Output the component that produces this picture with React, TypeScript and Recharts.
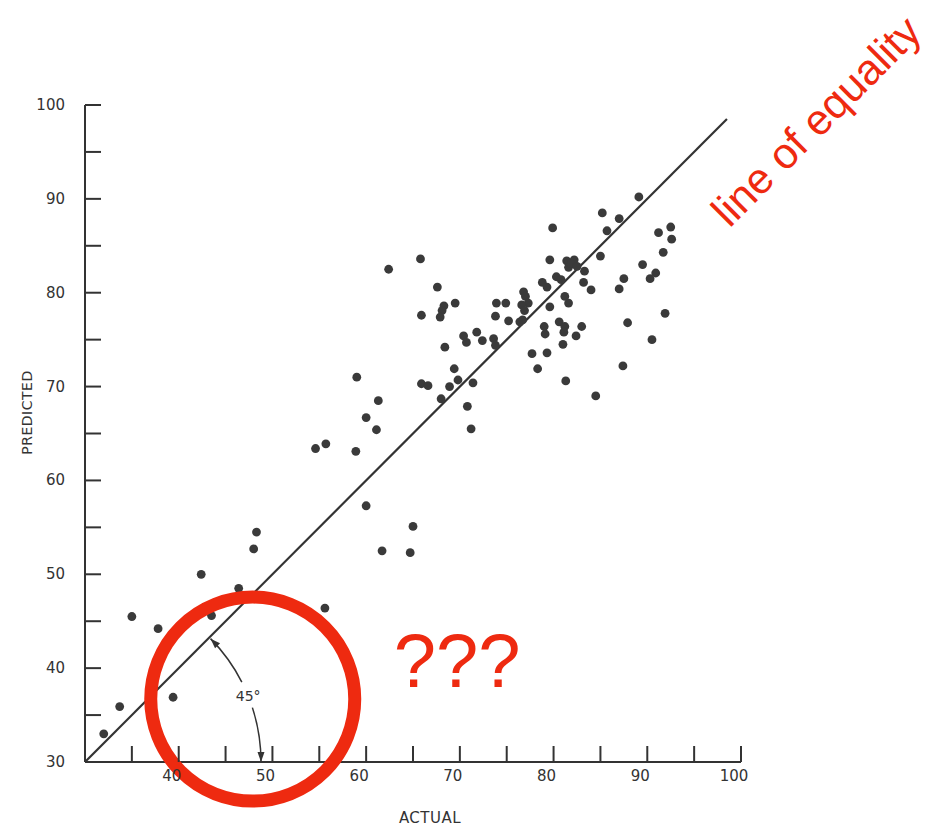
import { ScatterChart, Scatter, XAxis, YAxis, ReferenceLine, ReferenceDot, Label } from 'recharts'

// values
const actual = [
  32.0, 33.7, 35.0, 37.8, 39.4, 42.4, 43.5, 46.4, 48.0, 48.3, 55.6,
  54.6, 55.7, 58.9, 60.0, 61.7, 64.7, 65.0, 59.0, 61.3, 60.0, 61.1,
  62.4, 65.8, 67.6, 68.3, 68.1, 67.9, 65.9, 69.5, 68.4, 69.4, 69.8, 65.9, 66.6, 68.9, 71.4, 68.0, 70.8, 71.2,
  70.4, 70.7, 71.8, 72.4, 73.6, 73.8, 73.9, 74.9, 73.8, 75.2, 76.8, 77.0, 77.3, 76.6, 76.9, 76.4, 76.7,
  78.8, 79.3, 80.3, 80.8, 79.6, 81.2, 81.6, 80.6, 81.2, 81.1, 79.0, 79.1, 83.0, 82.4, 81.0, 79.3, 77.7, 78.3, 81.3, 84.5,
  79.9, 79.6, 81.4, 82.2, 81.6, 81.9, 82.5, 83.3, 85.0, 83.2, 84.0,
  85.2, 87.0, 85.7, 89.1, 91.2, 92.5, 92.6, 91.7, 89.5, 90.9, 90.3, 87.5, 87.0, 87.9, 87.4, 90.5, 91.9,
]
const predicted = [
  33.0, 35.9, 45.5, 44.2, 36.9, 50.0, 45.6, 48.5, 52.7, 54.5, 46.4,
  63.4, 63.9, 63.1, 57.3, 52.5, 52.3, 55.1, 71.0, 68.5, 66.7, 65.4,
  82.5, 83.6, 80.6, 78.6, 78.1, 77.4, 77.6, 78.9, 74.2, 71.9, 70.7, 70.3, 70.1, 70.0, 70.4, 68.7, 67.9, 65.5,
  75.4, 74.7, 75.8, 74.9, 75.1, 74.4, 78.9, 78.9, 77.5, 77.0, 80.1, 79.6, 78.9, 78.7, 78.1, 76.9, 77.1,
  81.1, 80.6, 81.7, 81.4, 78.5, 79.6, 78.9, 76.9, 76.4, 75.8, 76.4, 75.6, 76.4, 75.4, 74.5, 73.6, 73.5, 71.9, 70.6, 69.0,
  86.9, 83.5, 83.4, 83.5, 82.7, 83.1, 82.8, 82.3, 83.9, 81.1, 80.3,
  88.5, 87.9, 86.6, 90.2, 86.4, 87.0, 85.7, 84.3, 83.0, 82.1, 81.5, 81.5, 80.4, 76.8, 72.2, 75.0, 77.8,
]
const xTicks = [35, 40, 45, 50, 55, 60, 65, 70, 75, 80, 85, 90, 95, 100]
const yTicks = [30, 35, 40, 45, 50, 55, 60, 65, 70, 75, 80, 85, 90, 95, 100]
const equalityLine = [30, 98.5]

const points = actual.map((x, i) => ({ x, y: predicted[i] }))

const ink = '#333'
const red = '#ee2a10'
const tickFont = '"DejaVu Sans", sans-serif'

const YTick = ({ x, y, payload }: any) => (
  <g>
    {payload.value > 30 && <line x1={x + 20} y1={y} x2={x + 36} y2={y} stroke={ink} strokeWidth={2} />}
    {payload.value % 10 === 0 && (
      <text x={x} y={y} textAnchor="end" dominantBaseline="central" fontSize={15} fontFamily={tickFont} fill={ink}>
        {payload.value}
      </text>
    )}
  </g>
)

const XTick = ({ x, y, payload }: any) => (
  <g>
    <line x1={x} y1={y - 8} x2={x} y2={y - 24} stroke={ink} strokeWidth={2} />
    {payload.value % 10 === 0 && (
      <text x={x - 7} y={y + 11} textAnchor="middle" fontSize={15} fontFamily={tickFont} fill={ink}>
        {payload.value}
      </text>
    )}
  </g>
)

const arrowHead = (tx: number, ty: number, dx: number, dy: number) => {
  const len = 10
  const w = 3.5
  const bx = tx - dx * len
  const by = ty - dy * len
  return `M${tx},${ty} L${bx - dy * w},${by + dx * w} L${bx + dy * w},${by - dx * w} Z`
}

// 45 degree angle marker drawn around the origin
const AngleMark = ({ cx, cy }: any) => {
  const R = 176
  const rad = (d: number) => (d * Math.PI) / 180
  const pt = (d: number) => [cx + R * Math.cos(rad(d)), cy - R * Math.sin(rad(d))]
  const [ux1, uy1] = pt(27)
  const [ux2, uy2] = pt(44.5)
  const [lx1, ly1] = pt(18)
  const [lx2, ly2] = pt(0)
  const a1 = rad(44.5)
  const [tx, ty] = pt(22)
  return (
    <g>
      <path d={`M${ux1},${uy1} A${R},${R} 0 0 0 ${ux2},${uy2}`} fill="none" stroke={ink} strokeWidth={1.5} />
      <path d={arrowHead(ux2, uy2, -Math.sin(a1), -Math.cos(a1))} fill={ink} />
      <path d={`M${lx1},${ly1} A${R},${R} 0 0 1 ${lx2},${ly2}`} fill="none" stroke={ink} strokeWidth={1.5} />
      <path d={arrowHead(lx2, ly2, 0, 1)} fill={ink} />
      <text x={tx} y={ty} textAnchor="middle" dominantBaseline="central" fontSize={14} fontFamily={tickFont} fill={ink}>
        45°
      </text>
    </g>
  )
}

const QuestionMarks = ({ cx, cy }: any) => (
  <text x={cx} y={cy} textAnchor="middle" dominantBaseline="central" fontSize={76} fontFamily='"Liberation Sans", Arial, sans-serif' fill={red}>
    ???
  </text>
)

const EqualityNote = ({ cx, cy }: any) => (
  <text
    x={cx}
    y={cy}
    textAnchor="middle"
    dominantBaseline="central"
    fontSize={43}
    fontFamily='"Liberation Sans", Arial, sans-serif'
    fill={red}
    transform={`rotate(-45, ${cx}, ${cy})`}
  >
    line of equality
  </text>
)

const App = () => {
  return (
    <div style={{ position: 'absolute', left: 0, top: 0, background: '#fff' }}>
      <ScatterChart width={951} height={828} margin={{ top: 105, right: 210, bottom: 26, left: 25 }}>
        <XAxis
          type="number"
          dataKey="x"
          domain={[30, 100]}
          ticks={xTicks}
          allowDataOverflow
          tickSize={0}
          tickMargin={8}
          tickLine={false}
          tick={<XTick />}
          axisLine={{ stroke: ink, strokeWidth: 2 }}
          height={40}
        >
          <Label
            content={({ viewBox }: any) => (
              <text
                x={viewBox.x + viewBox.width / 2 + 17}
                y={viewBox.y + 61}
                textAnchor="middle"
                fontSize={15}
                letterSpacing={0.5}
                fontFamily={tickFont}
                fill={ink}
              >
                ACTUAL
              </text>
            )}
          />
        </XAxis>
        <YAxis
          type="number"
          dataKey="y"
          domain={[30, 100]}
          ticks={yTicks}
          allowDataOverflow
          tickSize={0}
          tickMargin={20}
          tickLine={false}
          tick={<YTick />}
          axisLine={{ stroke: ink, strokeWidth: 2 }}
          width={60}
        >
          <Label
            content={({ viewBox }: any) => {
              const lx = viewBox.x + 2
              const ly = viewBox.y + viewBox.height / 2 - 21
              return (
                <text
                  x={lx}
                  y={ly}
                  textAnchor="middle"
                  dominantBaseline="central"
                  fontSize={14}
                  letterSpacing={0.5}
                  fontFamily={tickFont}
                  fill={ink}
                  transform={`rotate(-90, ${lx}, ${ly})`}
                >
                  PREDICTED
                </text>
              )
            }}
          />
        </YAxis>
        <ReferenceLine
          segment={[
            { x: equalityLine[0], y: equalityLine[0] },
            { x: equalityLine[1], y: equalityLine[1] },
          ]}
          stroke={ink}
          strokeWidth={2.2}
          ifOverflow="visible"
        />
        <Scatter
          data={points}
          isAnimationActive={false}
          shape={(p: any) => <circle cx={p.cx} cy={p.cy} r={4.4} fill="#3a3a3a" />}
        />
        <ReferenceDot x={30} y={30} ifOverflow="visible" shape={<AngleMark />} />
        <ReferenceDot x={47.9} y={36.7} r={102} fill="none" stroke={red} strokeWidth={13} ifOverflow="visible" />
        <ReferenceDot x={69.7} y={40.8} ifOverflow="visible" shape={<QuestionMarks />} />
        <ReferenceDot x={108.0} y={98.3} ifOverflow="visible" shape={<EqualityNote />} />
      </ScatterChart>
    </div>
  )
}

export default App
